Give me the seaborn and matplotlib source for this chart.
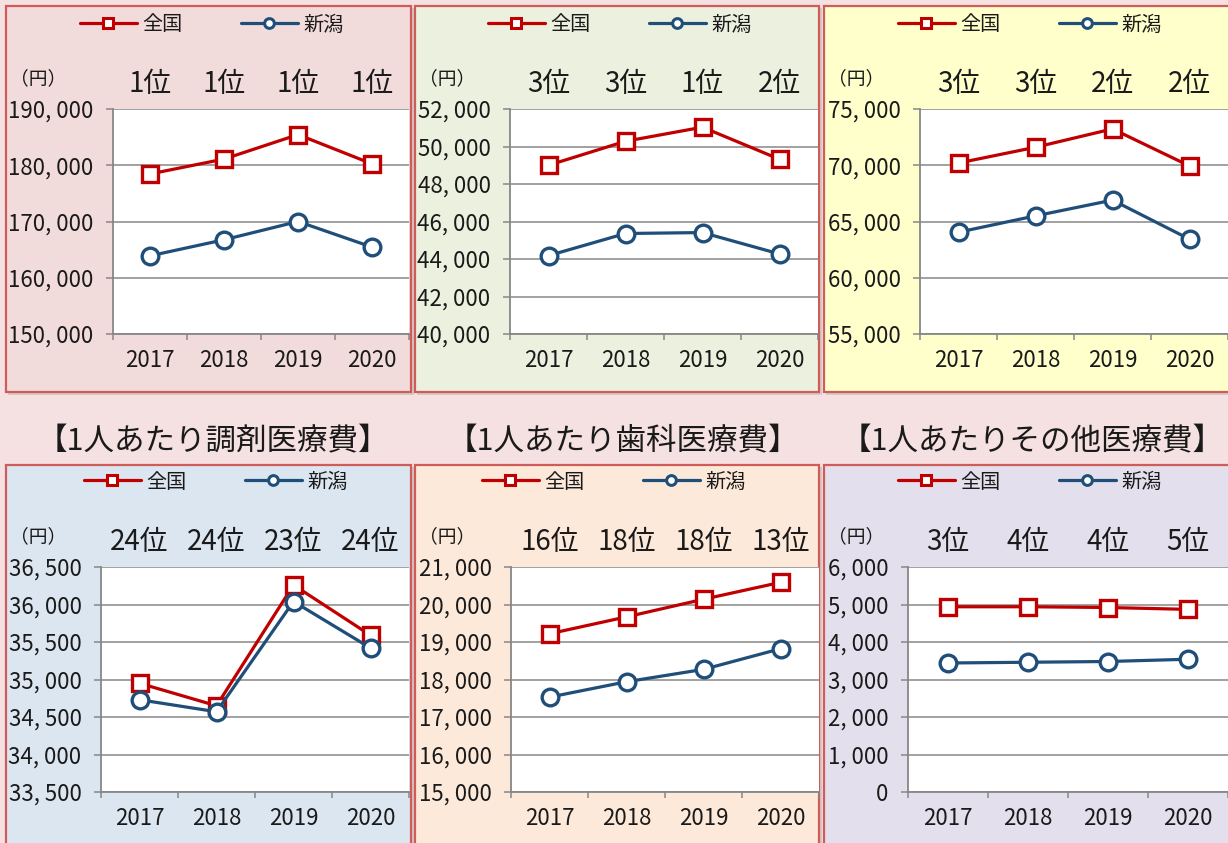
import matplotlib
matplotlib.use("Agg")
import matplotlib.pyplot as plt
from matplotlib.patches import Rectangle
from matplotlib.lines import Line2D
from matplotlib.ticker import FixedLocator
import seaborn as sns
import pandas as pd

# ---- data -------------------------------------------------------------
years = ["2017", "2018", "2019", "2020"]
series_names = ["全国", "新潟"]

national_1 = [178450, 181100, 185450, 180250]
niigata_1 = [163900, 166750, 170000, 165450]
rank_1 = ["1位", "1位", "1位", "1位"]

national_2 = [49000, 50280, 51030, 49320]
niigata_2 = [44180, 45360, 45410, 44270]
rank_2 = ["3位", "3位", "1位", "2位"]

national_3 = [70200, 71600, 73230, 69940]
niigata_3 = [64050, 65500, 66900, 63430]
rank_3 = ["3位", "3位", "2位", "2位"]

national_4 = [34950, 34650, 36260, 35590]
niigata_4 = [34730, 34570, 36040, 35420]
rank_4 = ["24位", "24位", "23位", "24位"]

national_5 = [19220, 19670, 20140, 20590]
niigata_5 = [17530, 17940, 18270, 18820]
rank_5 = ["16位", "18位", "18位", "13位"]

national_6 = [4940, 4940, 4920, 4870]
niigata_6 = [3440, 3460, 3480, 3540]
rank_6 = ["3位", "4位", "4位", "5位"]

titles_bottom = ["【1人あたり調剤医療費】", "【1人あたり歯科医療費】", "【1人あたりその他医療費】"]
unit_label = "（円）"

y_ranges = [
    (150000, 190000, 10000),
    (40000, 52000, 2000),
    (55000, 75000, 5000),
    (33500, 36500, 500),
    (15000, 21000, 1000),
    (0, 6000, 1000),
]

# ---- style ------------------------------------------------------------
sns.set_style("white")
plt.rcParams["font.family"] = ["Noto Sans CJK JP", "DejaVu Sans"]

W, H = 1228, 843
RED = "#C00000"
BLUE = "#1F4E79"
GRID = "#878787"
TXT = "#1a1a1a"
BG = "#F5E1E1"
BORDER = "#D05C5A"

fig = plt.figure(figsize=(W / 100, H / 100), dpi=100)
fig.patch.set_facecolor(BG)


def fx(x):
    return x / W


def fy(y):
    return 1 - y / H


def add_rect_px(x0, y0, x1, y1, **kw):
    r = Rectangle((fx(x0), fy(y1)), fx(x1) - fx(x0), fy(y0) - fy(y1),
                  transform=fig.transFigure, clip_on=False, **kw)
    fig.add_artist(r)
    return r


# panel boxes: (x0, y0, x1, y1, fill)
panel_boxes = [
    (6, 6, 411, 392, "#F2DCDB"),
    (415, 6, 819, 392, "#EBF1DE"),
    (824, 6, 1240, 392, "#FFFFCC"),
    (6, 465, 411, 860, "#DCE6F1"),
    (415, 465, 819, 860, "#FDE9D9"),
    (824, 465, 1240, 860, "#E4DFEC"),
]
# plot areas: (left, top, right, bottom) in pixels
plot_areas = [
    (113, 109, 409, 334),
    (510, 109, 818, 334),
    (920, 109, 1228, 334),
    (101, 567, 409, 792),
    (511, 567, 819, 792),
    (908, 567, 1228, 792),
]
legend_centers = [(212, 25), (620, 25), (1030, 25), (216, 482), (614, 482), (1030, 482)]
title_centers = [(213, 442), (623, 442), (1032, 442)]

nationals = [national_1, national_2, national_3, national_4, national_5, national_6]
niigatas = [niigata_1, niigata_2, niigata_3, niigata_4, niigata_5, niigata_6]
ranks = [rank_1, rank_2, rank_3, rank_4, rank_5, rank_6]

# shadows then boxes
for (x0, y0, x1, y1, fc) in panel_boxes:
    add_rect_px(x0 + 2, y0 + 2, x1 + 3, y1 + 3, facecolor="#9a9a9a", edgecolor="none",
                alpha=0.35, zorder=0)
for (x0, y0, x1, y1, fc) in panel_boxes:
    add_rect_px(x0, y0, x1, y1, facecolor=fc, edgecolor=BORDER, linewidth=1.6, zorder=1)

for (cx, cy), t in zip(title_centers, titles_bottom):
    fig.text(fx(cx), fy(cy), t, ha="center", va="center", fontsize=22, color=TXT)

palette = {"全国": RED, "新潟": BLUE}
markers = {"全国": "s", "新潟": "o"}

for i in range(6):
    left, top, right, bottom = plot_areas[i]
    ax = fig.add_axes([fx(left), fy(bottom), fx(right) - fx(left), fy(top) - fy(bottom)])
    ax.set_facecolor("white")
    ax.set_zorder(3)

    df = pd.DataFrame({
        "年": years * 2,
        "値": nationals[i] + niigatas[i],
        "系列": [series_names[0]] * 4 + [series_names[1]] * 4,
    })
    sns.lineplot(data=df, x="年", y="値", hue="系列", style="系列",
                 hue_order=series_names, style_order=series_names,
                 palette=palette, markers=markers, dashes=False,
                 linewidth=2.3, markersize=12, ax=ax, legend=False, sort=False)
    for ln in ax.lines:
        c = ln.get_color()
        ln.set_markerfacecolor("white")
        ln.set_markeredgecolor(c)
        ln.set_markeredgewidth(2.4)
        ln.set_clip_on(False)

    ymin, ymax, step = y_ranges[i]
    ticks = list(range(ymin, ymax + 1, step))
    ax.set_ylim(ymin, ymax)
    ax.set_yticks(ticks)
    ax.set_yticklabels([f"{v:,}".replace(",", ", ") for v in ticks])
    ax.set_xlim(-0.5, 3.5)
    ax.set_xticks(range(4))
    ax.set_xticklabels(years)
    ax.xaxis.set_minor_locator(FixedLocator([-0.5, 0.5, 1.5, 2.5, 3.5]))
    ax.set_xlabel("")
    ax.set_ylabel("")

    ax.yaxis.grid(True, color=GRID, linewidth=1.1)
    ax.xaxis.grid(False)
    ax.set_axisbelow(True)
    for s in ["top", "right"]:
        ax.spines[s].set_visible(False)
    for s in ["left", "bottom"]:
        ax.spines[s].set_color(GRID)
        ax.spines[s].set_linewidth(1.3)

    ax.tick_params(axis="y", which="major", length=5, width=1.1, color=GRID,
                   direction="out", pad=9, labelsize=16, labelcolor=TXT, left=True)
    ax.tick_params(axis="x", which="major", length=0, pad=11, labelsize=16, labelcolor=TXT)
    ax.tick_params(axis="x", which="minor", length=4.5, width=1.1, color=GRID,
                   direction="out", bottom=True)

    # rank labels above each year
    for j, r in enumerate(ranks[i]):
        ax.annotate(r, xy=(j, 1), xycoords=("data", "axes fraction"),
                    xytext=(0, 18), textcoords="offset points",
                    ha="center", va="center", fontsize=20, color=TXT,
                    annotation_clip=False)

    # unit label
    px0 = panel_boxes[i][0]
    fig.text(fx(px0 + 32), fy(top - 30), unit_label, ha="center", va="center",
             fontsize=13.5, color=TXT)

    # legend
    handles = [
        Line2D([], [], color=palette[n], lw=2.3, marker=markers[n], ms=7,
               mfc="white", mec=palette[n], mew=2.2)
        for n in series_names
    ]
    cx, cy = legend_centers[i]
    leg = ax.legend(handles, series_names, loc="center",
                    bbox_to_anchor=(fx(cx), fy(cy)), bbox_transform=fig.transFigure,
                    ncol=2, frameon=False, fontsize=14.5, handlelength=2.8,
                    handletextpad=0.3, columnspacing=2.9, borderaxespad=0)
    for t in leg.get_texts():
        t.set_color(TXT)

fig.savefig("out.png", dpi=100, facecolor=BG)
